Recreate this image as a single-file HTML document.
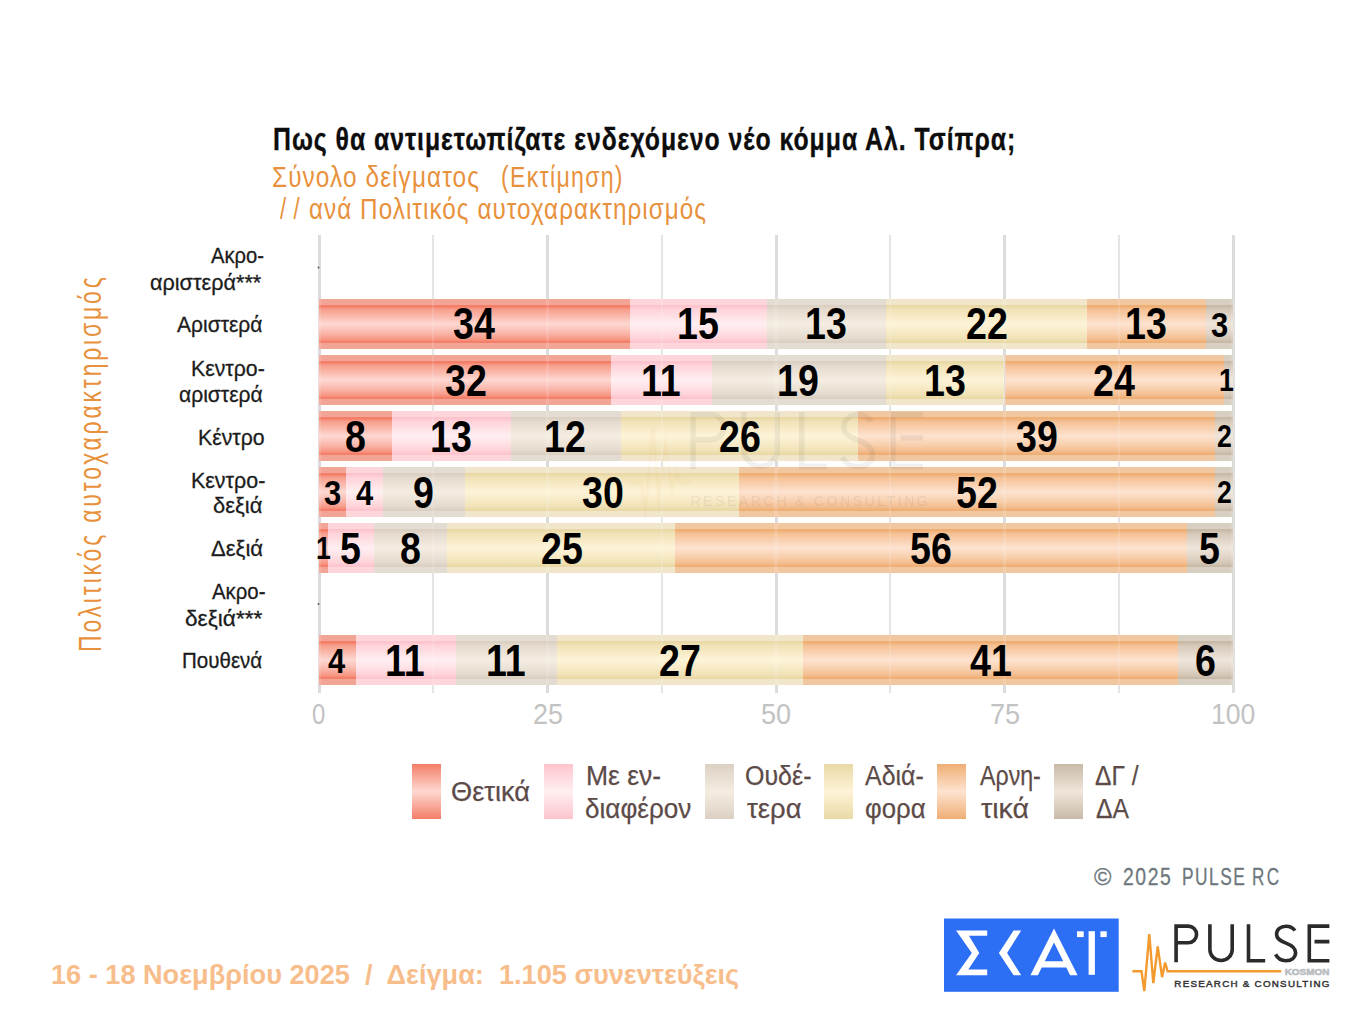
<!DOCTYPE html>
<html><head><meta charset="utf-8">
<style>
html,body{margin:0;padding:0;background:#fff;width:1360px;height:1020px;overflow:hidden}
body{position:relative;font-family:"Liberation Sans",sans-serif}
.t{position:absolute;white-space:pre;transform-origin:0 0}
.seg{position:absolute}
.g{position:absolute;top:235px;height:458px}
.lsq{position:absolute;top:764px;width:29px;height:55px}
svg{position:absolute;left:0;top:0}
</style></head><body>
<div class="g" style="left:317.50px;width:3.0px;background:#dcdcdc"></div>
<div class="g" style="left:432.25px;width:2.0px;background:#e5e5e5"></div>
<div class="g" style="left:546.00px;width:3.0px;background:#dcdcdc"></div>
<div class="g" style="left:660.75px;width:2.0px;background:#e5e5e5"></div>
<div class="g" style="left:774.50px;width:3.0px;background:#dcdcdc"></div>
<div class="g" style="left:889.25px;width:2.0px;background:#e5e5e5"></div>
<div class="g" style="left:1003.00px;width:3.0px;background:#dcdcdc"></div>
<div class="g" style="left:1117.75px;width:2.0px;background:#e5e5e5"></div>
<div class="g" style="left:1231.50px;width:3.0px;background:#dcdcdc"></div>
<div class="seg" style="left:319.00px;top:298.50px;width:310.76px;height:50.4px;background:linear-gradient(to bottom,#f3a595 0%,#f3a595 11.5%,#f47e68 12.5%,#f47e68 15%,#f79e8d 21%,#fabbaf 36%,#fdd8d1 50%,#fabdb2 65%,#f79988 80%,#f47e68 85.5%,#f47e68 88%,#f3a595 89%,#f3a595 100%)"></div>
<div class="seg" style="left:629.76px;top:298.50px;width:137.10px;height:50.4px;background:linear-gradient(to bottom,#fcd6db 0%,#fcd6db 11.5%,#fdc4cd 12.5%,#fdc4cd 15%,#fed3da 21%,#fee1e5 36%,#ffeff1 50%,#fee2e6 65%,#fed1d8 80%,#fdc4cd 85.5%,#fdc4cd 88%,#fcd6db 89%,#fcd6db 100%)"></div>
<div class="seg" style="left:766.86px;top:298.50px;width:118.82px;height:50.4px;background:linear-gradient(to bottom,#e3dcd2 0%,#e3dcd2 11.5%,#dbd0c2 12.5%,#dbd0c2 15%,#e4dacd 21%,#ede4d8 36%,#f5ede2 50%,#ede4d8 65%,#e3d9cc 80%,#dbd0c2 85.5%,#dbd0c2 88%,#e3dcd2 89%,#e3dcd2 100%)"></div>
<div class="seg" style="left:885.68px;top:298.50px;width:201.08px;height:50.4px;background:linear-gradient(to bottom,#f1e6cb 0%,#f1e6cb 11.5%,#ead9a6 12.5%,#ead9a6 15%,#f1e2b7 21%,#f7ebc7 36%,#fdf3d7 50%,#f7ebc8 65%,#f0e1b5 80%,#ead9a6 85.5%,#ead9a6 88%,#f1e6cb 89%,#f1e6cb 100%)"></div>
<div class="seg" style="left:1086.76px;top:298.50px;width:118.82px;height:50.4px;background:linear-gradient(to bottom,#f1c7a0 0%,#f1c7a0 11.5%,#efae74 12.5%,#efae74 15%,#f4c194 21%,#f9d2b3 36%,#fde3d0 50%,#f9d3b4 65%,#f3be90 80%,#efae74 85.5%,#efae74 88%,#f1c7a0 89%,#f1c7a0 100%)"></div>
<div class="seg" style="left:1205.58px;top:298.50px;width:27.42px;height:50.4px;background:linear-gradient(to bottom,#d8cfc3 0%,#d8cfc3 11.5%,#c9baa8 12.5%,#c9baa8 15%,#d6c9ba 21%,#e3d7ca 36%,#efe5da 50%,#e4d8cb 65%,#d4c7b7 80%,#c9baa8 85.5%,#c9baa8 88%,#d8cfc3 89%,#d8cfc3 100%)"></div>
<div class="seg" style="left:319.00px;top:354.60px;width:292.48px;height:50.4px;background:linear-gradient(to bottom,#f3a595 0%,#f3a595 11.5%,#f47e68 12.5%,#f47e68 15%,#f79e8d 21%,#fabbaf 36%,#fdd8d1 50%,#fabdb2 65%,#f79988 80%,#f47e68 85.5%,#f47e68 88%,#f3a595 89%,#f3a595 100%)"></div>
<div class="seg" style="left:611.48px;top:354.60px;width:100.54px;height:50.4px;background:linear-gradient(to bottom,#fcd6db 0%,#fcd6db 11.5%,#fdc4cd 12.5%,#fdc4cd 15%,#fed3da 21%,#fee1e5 36%,#ffeff1 50%,#fee2e6 65%,#fed1d8 80%,#fdc4cd 85.5%,#fdc4cd 88%,#fcd6db 89%,#fcd6db 100%)"></div>
<div class="seg" style="left:712.02px;top:354.60px;width:173.66px;height:50.4px;background:linear-gradient(to bottom,#e3dcd2 0%,#e3dcd2 11.5%,#dbd0c2 12.5%,#dbd0c2 15%,#e4dacd 21%,#ede4d8 36%,#f5ede2 50%,#ede4d8 65%,#e3d9cc 80%,#dbd0c2 85.5%,#dbd0c2 88%,#e3dcd2 89%,#e3dcd2 100%)"></div>
<div class="seg" style="left:885.68px;top:354.60px;width:118.82px;height:50.4px;background:linear-gradient(to bottom,#f1e6cb 0%,#f1e6cb 11.5%,#ead9a6 12.5%,#ead9a6 15%,#f1e2b7 21%,#f7ebc7 36%,#fdf3d7 50%,#f7ebc8 65%,#f0e1b5 80%,#ead9a6 85.5%,#ead9a6 88%,#f1e6cb 89%,#f1e6cb 100%)"></div>
<div class="seg" style="left:1004.50px;top:354.60px;width:219.36px;height:50.4px;background:linear-gradient(to bottom,#f1c7a0 0%,#f1c7a0 11.5%,#efae74 12.5%,#efae74 15%,#f4c194 21%,#f9d2b3 36%,#fde3d0 50%,#f9d3b4 65%,#f3be90 80%,#efae74 85.5%,#efae74 88%,#f1c7a0 89%,#f1c7a0 100%)"></div>
<div class="seg" style="left:1223.86px;top:354.60px;width:9.14px;height:50.4px;background:linear-gradient(to bottom,#d8cfc3 0%,#d8cfc3 11.5%,#c9baa8 12.5%,#c9baa8 15%,#d6c9ba 21%,#e3d7ca 36%,#efe5da 50%,#e4d8cb 65%,#d4c7b7 80%,#c9baa8 85.5%,#c9baa8 88%,#d8cfc3 89%,#d8cfc3 100%)"></div>
<div class="seg" style="left:319.00px;top:410.70px;width:73.12px;height:50.4px;background:linear-gradient(to bottom,#f3a595 0%,#f3a595 11.5%,#f47e68 12.5%,#f47e68 15%,#f79e8d 21%,#fabbaf 36%,#fdd8d1 50%,#fabdb2 65%,#f79988 80%,#f47e68 85.5%,#f47e68 88%,#f3a595 89%,#f3a595 100%)"></div>
<div class="seg" style="left:392.12px;top:410.70px;width:118.82px;height:50.4px;background:linear-gradient(to bottom,#fcd6db 0%,#fcd6db 11.5%,#fdc4cd 12.5%,#fdc4cd 15%,#fed3da 21%,#fee1e5 36%,#ffeff1 50%,#fee2e6 65%,#fed1d8 80%,#fdc4cd 85.5%,#fdc4cd 88%,#fcd6db 89%,#fcd6db 100%)"></div>
<div class="seg" style="left:510.94px;top:410.70px;width:109.68px;height:50.4px;background:linear-gradient(to bottom,#e3dcd2 0%,#e3dcd2 11.5%,#dbd0c2 12.5%,#dbd0c2 15%,#e4dacd 21%,#ede4d8 36%,#f5ede2 50%,#ede4d8 65%,#e3d9cc 80%,#dbd0c2 85.5%,#dbd0c2 88%,#e3dcd2 89%,#e3dcd2 100%)"></div>
<div class="seg" style="left:620.62px;top:410.70px;width:237.64px;height:50.4px;background:linear-gradient(to bottom,#f1e6cb 0%,#f1e6cb 11.5%,#ead9a6 12.5%,#ead9a6 15%,#f1e2b7 21%,#f7ebc7 36%,#fdf3d7 50%,#f7ebc8 65%,#f0e1b5 80%,#ead9a6 85.5%,#ead9a6 88%,#f1e6cb 89%,#f1e6cb 100%)"></div>
<div class="seg" style="left:858.26px;top:410.70px;width:356.46px;height:50.4px;background:linear-gradient(to bottom,#f1c7a0 0%,#f1c7a0 11.5%,#efae74 12.5%,#efae74 15%,#f4c194 21%,#f9d2b3 36%,#fde3d0 50%,#f9d3b4 65%,#f3be90 80%,#efae74 85.5%,#efae74 88%,#f1c7a0 89%,#f1c7a0 100%)"></div>
<div class="seg" style="left:1214.72px;top:410.70px;width:18.28px;height:50.4px;background:linear-gradient(to bottom,#d8cfc3 0%,#d8cfc3 11.5%,#c9baa8 12.5%,#c9baa8 15%,#d6c9ba 21%,#e3d7ca 36%,#efe5da 50%,#e4d8cb 65%,#d4c7b7 80%,#c9baa8 85.5%,#c9baa8 88%,#d8cfc3 89%,#d8cfc3 100%)"></div>
<div class="seg" style="left:319.00px;top:466.80px;width:27.42px;height:50.4px;background:linear-gradient(to bottom,#f3a595 0%,#f3a595 11.5%,#f47e68 12.5%,#f47e68 15%,#f79e8d 21%,#fabbaf 36%,#fdd8d1 50%,#fabdb2 65%,#f79988 80%,#f47e68 85.5%,#f47e68 88%,#f3a595 89%,#f3a595 100%)"></div>
<div class="seg" style="left:346.42px;top:466.80px;width:36.56px;height:50.4px;background:linear-gradient(to bottom,#fcd6db 0%,#fcd6db 11.5%,#fdc4cd 12.5%,#fdc4cd 15%,#fed3da 21%,#fee1e5 36%,#ffeff1 50%,#fee2e6 65%,#fed1d8 80%,#fdc4cd 85.5%,#fdc4cd 88%,#fcd6db 89%,#fcd6db 100%)"></div>
<div class="seg" style="left:382.98px;top:466.80px;width:82.26px;height:50.4px;background:linear-gradient(to bottom,#e3dcd2 0%,#e3dcd2 11.5%,#dbd0c2 12.5%,#dbd0c2 15%,#e4dacd 21%,#ede4d8 36%,#f5ede2 50%,#ede4d8 65%,#e3d9cc 80%,#dbd0c2 85.5%,#dbd0c2 88%,#e3dcd2 89%,#e3dcd2 100%)"></div>
<div class="seg" style="left:465.24px;top:466.80px;width:274.20px;height:50.4px;background:linear-gradient(to bottom,#f1e6cb 0%,#f1e6cb 11.5%,#ead9a6 12.5%,#ead9a6 15%,#f1e2b7 21%,#f7ebc7 36%,#fdf3d7 50%,#f7ebc8 65%,#f0e1b5 80%,#ead9a6 85.5%,#ead9a6 88%,#f1e6cb 89%,#f1e6cb 100%)"></div>
<div class="seg" style="left:739.44px;top:466.80px;width:475.28px;height:50.4px;background:linear-gradient(to bottom,#f1c7a0 0%,#f1c7a0 11.5%,#efae74 12.5%,#efae74 15%,#f4c194 21%,#f9d2b3 36%,#fde3d0 50%,#f9d3b4 65%,#f3be90 80%,#efae74 85.5%,#efae74 88%,#f1c7a0 89%,#f1c7a0 100%)"></div>
<div class="seg" style="left:1214.72px;top:466.80px;width:18.28px;height:50.4px;background:linear-gradient(to bottom,#d8cfc3 0%,#d8cfc3 11.5%,#c9baa8 12.5%,#c9baa8 15%,#d6c9ba 21%,#e3d7ca 36%,#efe5da 50%,#e4d8cb 65%,#d4c7b7 80%,#c9baa8 85.5%,#c9baa8 88%,#d8cfc3 89%,#d8cfc3 100%)"></div>
<div class="seg" style="left:319.00px;top:522.90px;width:9.14px;height:50.4px;background:linear-gradient(to bottom,#f3a595 0%,#f3a595 11.5%,#f47e68 12.5%,#f47e68 15%,#f79e8d 21%,#fabbaf 36%,#fdd8d1 50%,#fabdb2 65%,#f79988 80%,#f47e68 85.5%,#f47e68 88%,#f3a595 89%,#f3a595 100%)"></div>
<div class="seg" style="left:328.14px;top:522.90px;width:45.70px;height:50.4px;background:linear-gradient(to bottom,#fcd6db 0%,#fcd6db 11.5%,#fdc4cd 12.5%,#fdc4cd 15%,#fed3da 21%,#fee1e5 36%,#ffeff1 50%,#fee2e6 65%,#fed1d8 80%,#fdc4cd 85.5%,#fdc4cd 88%,#fcd6db 89%,#fcd6db 100%)"></div>
<div class="seg" style="left:373.84px;top:522.90px;width:73.12px;height:50.4px;background:linear-gradient(to bottom,#e3dcd2 0%,#e3dcd2 11.5%,#dbd0c2 12.5%,#dbd0c2 15%,#e4dacd 21%,#ede4d8 36%,#f5ede2 50%,#ede4d8 65%,#e3d9cc 80%,#dbd0c2 85.5%,#dbd0c2 88%,#e3dcd2 89%,#e3dcd2 100%)"></div>
<div class="seg" style="left:446.96px;top:522.90px;width:228.50px;height:50.4px;background:linear-gradient(to bottom,#f1e6cb 0%,#f1e6cb 11.5%,#ead9a6 12.5%,#ead9a6 15%,#f1e2b7 21%,#f7ebc7 36%,#fdf3d7 50%,#f7ebc8 65%,#f0e1b5 80%,#ead9a6 85.5%,#ead9a6 88%,#f1e6cb 89%,#f1e6cb 100%)"></div>
<div class="seg" style="left:675.46px;top:522.90px;width:511.84px;height:50.4px;background:linear-gradient(to bottom,#f1c7a0 0%,#f1c7a0 11.5%,#efae74 12.5%,#efae74 15%,#f4c194 21%,#f9d2b3 36%,#fde3d0 50%,#f9d3b4 65%,#f3be90 80%,#efae74 85.5%,#efae74 88%,#f1c7a0 89%,#f1c7a0 100%)"></div>
<div class="seg" style="left:1187.30px;top:522.90px;width:45.70px;height:50.4px;background:linear-gradient(to bottom,#d8cfc3 0%,#d8cfc3 11.5%,#c9baa8 12.5%,#c9baa8 15%,#d6c9ba 21%,#e3d7ca 36%,#efe5da 50%,#e4d8cb 65%,#d4c7b7 80%,#c9baa8 85.5%,#c9baa8 88%,#d8cfc3 89%,#d8cfc3 100%)"></div>
<div class="seg" style="left:319.00px;top:635.10px;width:36.56px;height:50.4px;background:linear-gradient(to bottom,#f3a595 0%,#f3a595 11.5%,#f47e68 12.5%,#f47e68 15%,#f79e8d 21%,#fabbaf 36%,#fdd8d1 50%,#fabdb2 65%,#f79988 80%,#f47e68 85.5%,#f47e68 88%,#f3a595 89%,#f3a595 100%)"></div>
<div class="seg" style="left:355.56px;top:635.10px;width:100.54px;height:50.4px;background:linear-gradient(to bottom,#fcd6db 0%,#fcd6db 11.5%,#fdc4cd 12.5%,#fdc4cd 15%,#fed3da 21%,#fee1e5 36%,#ffeff1 50%,#fee2e6 65%,#fed1d8 80%,#fdc4cd 85.5%,#fdc4cd 88%,#fcd6db 89%,#fcd6db 100%)"></div>
<div class="seg" style="left:456.10px;top:635.10px;width:100.54px;height:50.4px;background:linear-gradient(to bottom,#e3dcd2 0%,#e3dcd2 11.5%,#dbd0c2 12.5%,#dbd0c2 15%,#e4dacd 21%,#ede4d8 36%,#f5ede2 50%,#ede4d8 65%,#e3d9cc 80%,#dbd0c2 85.5%,#dbd0c2 88%,#e3dcd2 89%,#e3dcd2 100%)"></div>
<div class="seg" style="left:556.64px;top:635.10px;width:246.78px;height:50.4px;background:linear-gradient(to bottom,#f1e6cb 0%,#f1e6cb 11.5%,#ead9a6 12.5%,#ead9a6 15%,#f1e2b7 21%,#f7ebc7 36%,#fdf3d7 50%,#f7ebc8 65%,#f0e1b5 80%,#ead9a6 85.5%,#ead9a6 88%,#f1e6cb 89%,#f1e6cb 100%)"></div>
<div class="seg" style="left:803.42px;top:635.10px;width:374.74px;height:50.4px;background:linear-gradient(to bottom,#f1c7a0 0%,#f1c7a0 11.5%,#efae74 12.5%,#efae74 15%,#f4c194 21%,#f9d2b3 36%,#fde3d0 50%,#f9d3b4 65%,#f3be90 80%,#efae74 85.5%,#efae74 88%,#f1c7a0 89%,#f1c7a0 100%)"></div>
<div class="seg" style="left:1178.16px;top:635.10px;width:54.84px;height:50.4px;background:linear-gradient(to bottom,#d8cfc3 0%,#d8cfc3 11.5%,#c9baa8 12.5%,#c9baa8 15%,#d6c9ba 21%,#e3d7ca 36%,#efe5da 50%,#e4d8cb 65%,#d4c7b7 80%,#c9baa8 85.5%,#c9baa8 88%,#d8cfc3 89%,#d8cfc3 100%)"></div>
<div class="seg" style="left:317.40px;top:298.50px;width:3.2px;height:50.4px;background:#fff;opacity:0.13"></div>
<div class="seg" style="left:432.25px;top:298.50px;width:2.0px;height:50.4px;background:#fff;opacity:0.13"></div>
<div class="seg" style="left:545.90px;top:298.50px;width:3.2px;height:50.4px;background:#fff;opacity:0.13"></div>
<div class="seg" style="left:660.75px;top:298.50px;width:2.0px;height:50.4px;background:#fff;opacity:0.13"></div>
<div class="seg" style="left:774.40px;top:298.50px;width:3.2px;height:50.4px;background:#fff;opacity:0.13"></div>
<div class="seg" style="left:889.25px;top:298.50px;width:2.0px;height:50.4px;background:#fff;opacity:0.13"></div>
<div class="seg" style="left:1002.90px;top:298.50px;width:3.2px;height:50.4px;background:#fff;opacity:0.13"></div>
<div class="seg" style="left:1117.75px;top:298.50px;width:2.0px;height:50.4px;background:#fff;opacity:0.13"></div>
<div class="seg" style="left:1231.40px;top:298.50px;width:3.2px;height:50.4px;background:#fff;opacity:0.13"></div>
<div class="seg" style="left:317.40px;top:354.60px;width:3.2px;height:50.4px;background:#fff;opacity:0.13"></div>
<div class="seg" style="left:432.25px;top:354.60px;width:2.0px;height:50.4px;background:#fff;opacity:0.13"></div>
<div class="seg" style="left:545.90px;top:354.60px;width:3.2px;height:50.4px;background:#fff;opacity:0.13"></div>
<div class="seg" style="left:660.75px;top:354.60px;width:2.0px;height:50.4px;background:#fff;opacity:0.13"></div>
<div class="seg" style="left:774.40px;top:354.60px;width:3.2px;height:50.4px;background:#fff;opacity:0.13"></div>
<div class="seg" style="left:889.25px;top:354.60px;width:2.0px;height:50.4px;background:#fff;opacity:0.13"></div>
<div class="seg" style="left:1002.90px;top:354.60px;width:3.2px;height:50.4px;background:#fff;opacity:0.13"></div>
<div class="seg" style="left:1117.75px;top:354.60px;width:2.0px;height:50.4px;background:#fff;opacity:0.13"></div>
<div class="seg" style="left:1231.40px;top:354.60px;width:3.2px;height:50.4px;background:#fff;opacity:0.13"></div>
<div class="seg" style="left:317.40px;top:410.70px;width:3.2px;height:50.4px;background:#fff;opacity:0.13"></div>
<div class="seg" style="left:432.25px;top:410.70px;width:2.0px;height:50.4px;background:#fff;opacity:0.13"></div>
<div class="seg" style="left:545.90px;top:410.70px;width:3.2px;height:50.4px;background:#fff;opacity:0.13"></div>
<div class="seg" style="left:660.75px;top:410.70px;width:2.0px;height:50.4px;background:#fff;opacity:0.13"></div>
<div class="seg" style="left:774.40px;top:410.70px;width:3.2px;height:50.4px;background:#fff;opacity:0.13"></div>
<div class="seg" style="left:889.25px;top:410.70px;width:2.0px;height:50.4px;background:#fff;opacity:0.13"></div>
<div class="seg" style="left:1002.90px;top:410.70px;width:3.2px;height:50.4px;background:#fff;opacity:0.13"></div>
<div class="seg" style="left:1117.75px;top:410.70px;width:2.0px;height:50.4px;background:#fff;opacity:0.13"></div>
<div class="seg" style="left:1231.40px;top:410.70px;width:3.2px;height:50.4px;background:#fff;opacity:0.13"></div>
<div class="seg" style="left:317.40px;top:466.80px;width:3.2px;height:50.4px;background:#fff;opacity:0.13"></div>
<div class="seg" style="left:432.25px;top:466.80px;width:2.0px;height:50.4px;background:#fff;opacity:0.13"></div>
<div class="seg" style="left:545.90px;top:466.80px;width:3.2px;height:50.4px;background:#fff;opacity:0.13"></div>
<div class="seg" style="left:660.75px;top:466.80px;width:2.0px;height:50.4px;background:#fff;opacity:0.13"></div>
<div class="seg" style="left:774.40px;top:466.80px;width:3.2px;height:50.4px;background:#fff;opacity:0.13"></div>
<div class="seg" style="left:889.25px;top:466.80px;width:2.0px;height:50.4px;background:#fff;opacity:0.13"></div>
<div class="seg" style="left:1002.90px;top:466.80px;width:3.2px;height:50.4px;background:#fff;opacity:0.13"></div>
<div class="seg" style="left:1117.75px;top:466.80px;width:2.0px;height:50.4px;background:#fff;opacity:0.13"></div>
<div class="seg" style="left:1231.40px;top:466.80px;width:3.2px;height:50.4px;background:#fff;opacity:0.13"></div>
<div class="seg" style="left:317.40px;top:522.90px;width:3.2px;height:50.4px;background:#fff;opacity:0.13"></div>
<div class="seg" style="left:432.25px;top:522.90px;width:2.0px;height:50.4px;background:#fff;opacity:0.13"></div>
<div class="seg" style="left:545.90px;top:522.90px;width:3.2px;height:50.4px;background:#fff;opacity:0.13"></div>
<div class="seg" style="left:660.75px;top:522.90px;width:2.0px;height:50.4px;background:#fff;opacity:0.13"></div>
<div class="seg" style="left:774.40px;top:522.90px;width:3.2px;height:50.4px;background:#fff;opacity:0.13"></div>
<div class="seg" style="left:889.25px;top:522.90px;width:2.0px;height:50.4px;background:#fff;opacity:0.13"></div>
<div class="seg" style="left:1002.90px;top:522.90px;width:3.2px;height:50.4px;background:#fff;opacity:0.13"></div>
<div class="seg" style="left:1117.75px;top:522.90px;width:2.0px;height:50.4px;background:#fff;opacity:0.13"></div>
<div class="seg" style="left:1231.40px;top:522.90px;width:3.2px;height:50.4px;background:#fff;opacity:0.13"></div>
<div class="seg" style="left:317.40px;top:635.10px;width:3.2px;height:50.4px;background:#fff;opacity:0.13"></div>
<div class="seg" style="left:432.25px;top:635.10px;width:2.0px;height:50.4px;background:#fff;opacity:0.13"></div>
<div class="seg" style="left:545.90px;top:635.10px;width:3.2px;height:50.4px;background:#fff;opacity:0.13"></div>
<div class="seg" style="left:660.75px;top:635.10px;width:2.0px;height:50.4px;background:#fff;opacity:0.13"></div>
<div class="seg" style="left:774.40px;top:635.10px;width:3.2px;height:50.4px;background:#fff;opacity:0.13"></div>
<div class="seg" style="left:889.25px;top:635.10px;width:2.0px;height:50.4px;background:#fff;opacity:0.13"></div>
<div class="seg" style="left:1002.90px;top:635.10px;width:3.2px;height:50.4px;background:#fff;opacity:0.13"></div>
<div class="seg" style="left:1117.75px;top:635.10px;width:2.0px;height:50.4px;background:#fff;opacity:0.13"></div>
<div class="seg" style="left:1231.40px;top:635.10px;width:3.2px;height:50.4px;background:#fff;opacity:0.13"></div>
<div class="lsq" style="left:411.8px;background:linear-gradient(to bottom,#f47e68 0%,#fdd8d1 50%,#f47e68 100%)"></div>
<div class="lsq" style="left:543.5px;background:linear-gradient(to bottom,#fdc4cd 0%,#ffeff1 50%,#fdc4cd 100%)"></div>
<div class="lsq" style="left:705.4px;background:linear-gradient(to bottom,#dbd0c2 0%,#f5ede2 50%,#dbd0c2 100%)"></div>
<div class="lsq" style="left:823.75px;background:linear-gradient(to bottom,#ead9a6 0%,#fdf3d7 50%,#ead9a6 100%)"></div>
<div class="lsq" style="left:936.75px;background:linear-gradient(to bottom,#efae74 0%,#fde3d0 50%,#efae74 100%)"></div>
<div class="lsq" style="left:1053.75px;background:linear-gradient(to bottom,#c9baa8 0%,#efe5da 50%,#c9baa8 100%)"></div>
<div class="t" style="left:272.54px;top:124px;font-size:31.9px;line-height:31.9px;color:#0d0d0d;transform:scaleX(0.7778);letter-spacing:1.254px;font-weight:bold;-webkit-text-stroke:0.35px #0d0d0d">Πως θα αντιμετωπίζατε ενδεχόμενο νέο κόμμα Αλ. Τσίπρα;</div>
<div class="t" style="left:272.05px;top:162px;font-size:29.6px;line-height:29.6px;color:#e8913c;transform:scaleX(0.8236);letter-spacing:1.328px">Σύνολο δείγματος</div>
<div class="t" style="left:501.04px;top:162px;font-size:29.6px;line-height:29.6px;color:#e8913c;transform:scaleX(0.7791);letter-spacing:1.691px">(Εκτίμηση)</div>
<div class="t" style="left:279.80px;top:194px;font-size:29.6px;line-height:29.6px;color:#e8913c;transform:scaleX(0.7440);letter-spacing:9.806px">//</div>
<div class="t" style="left:308.78px;top:194px;font-size:29.6px;line-height:29.6px;color:#e8913c;transform:scaleX(0.8193);letter-spacing:1.287px">ανά Πολιτικός αυτοχαρακτηρισμός</div>
<div class="t" style="left:74.65px;top:651.52px;font-size:31.0px;line-height:31.0px;color:#e8913c;transform:rotate(-90deg) scaleX(0.7400);letter-spacing:3.814px">Πολιτικός αυτοχαρακτηρισμός</div>
<div class="t" style="left:211.20px;top:245px;font-size:22.6px;line-height:22.6px;color:#1c1c1c;transform:scaleX(0.8931);-webkit-text-stroke:0.3px #1c1c1c">Ακρο-</div>
<div class="t" style="left:150.34px;top:272px;font-size:22.6px;line-height:22.6px;color:#1c1c1c;transform:scaleX(0.9574);-webkit-text-stroke:0.3px #1c1c1c">αριστερά***</div>
<div class="t" style="left:177.20px;top:314px;font-size:22.6px;line-height:22.6px;color:#1c1c1c;transform:scaleX(0.9308);-webkit-text-stroke:0.3px #1c1c1c">Αριστερά</div>
<div class="t" style="left:191.02px;top:358px;font-size:22.6px;line-height:22.6px;color:#1c1c1c;transform:scaleX(0.9413);-webkit-text-stroke:0.3px #1c1c1c">Κεντρο-</div>
<div class="t" style="left:178.97px;top:384px;font-size:22.6px;line-height:22.6px;color:#1c1c1c;transform:scaleX(0.9318);-webkit-text-stroke:0.3px #1c1c1c">αριστερά</div>
<div class="t" style="left:198.01px;top:427px;font-size:22.6px;line-height:22.6px;color:#1c1c1c;transform:scaleX(0.9426);-webkit-text-stroke:0.3px #1c1c1c">Κέντρο</div>
<div class="t" style="left:190.70px;top:470px;font-size:22.6px;line-height:22.6px;color:#1c1c1c;transform:scaleX(0.9493);-webkit-text-stroke:0.3px #1c1c1c">Κεντρο-</div>
<div class="t" style="left:213.23px;top:495px;font-size:22.6px;line-height:22.6px;color:#1c1c1c;transform:scaleX(0.9694);-webkit-text-stroke:0.3px #1c1c1c">δεξιά</div>
<div class="t" style="left:210.53px;top:538px;font-size:22.6px;line-height:22.6px;color:#1c1c1c;transform:scaleX(0.9750);-webkit-text-stroke:0.3px #1c1c1c">Δεξιά</div>
<div class="t" style="left:211.50px;top:581px;font-size:22.6px;line-height:22.6px;color:#1c1c1c;transform:scaleX(0.9017);-webkit-text-stroke:0.3px #1c1c1c">Ακρο-</div>
<div class="t" style="left:184.60px;top:608px;font-size:22.6px;line-height:22.6px;color:#1c1c1c;transform:scaleX(1.0013);-webkit-text-stroke:0.3px #1c1c1c">δεξιά***</div>
<div class="t" style="left:181.68px;top:650px;font-size:22.6px;line-height:22.6px;color:#1c1c1c;transform:scaleX(0.9093);-webkit-text-stroke:0.3px #1c1c1c">Πουθενά</div>
<div class="t" style="left:311.98px;top:700px;font-size:29.0px;line-height:29.0px;color:#c2c2c2;transform:scaleX(0.8214)">0</div>
<div class="t" style="left:532.77px;top:700px;font-size:29.0px;line-height:29.0px;color:#c2c2c2;transform:scaleX(0.9267)">25</div>
<div class="t" style="left:761.07px;top:700px;font-size:29.0px;line-height:29.0px;color:#c2c2c2;transform:scaleX(0.9333)">50</div>
<div class="t" style="left:989.57px;top:700px;font-size:29.0px;line-height:29.0px;color:#c2c2c2;transform:scaleX(0.9333)">75</div>
<div class="t" style="left:1211.27px;top:700px;font-size:29.0px;line-height:29.0px;color:#c2c2c2;transform:scaleX(0.9156)">100</div>
<div class="t" style="left:451.34px;top:777px;font-size:28.2px;line-height:28.2px;color:#5c4b48;transform:scaleX(0.9637);-webkit-text-stroke:0.25px #5c4b48">Θετικά</div>
<div class="t" style="left:585.62px;top:761px;font-size:28.2px;line-height:28.2px;color:#5c4b48;transform:scaleX(0.9403);-webkit-text-stroke:0.25px #5c4b48">Με εν-</div>
<div class="t" style="left:584.77px;top:794px;font-size:28.2px;line-height:28.2px;color:#5c4b48;transform:scaleX(0.9257);-webkit-text-stroke:0.25px #5c4b48">διαφέρον</div>
<div class="t" style="left:745.01px;top:761px;font-size:28.2px;line-height:28.2px;color:#5c4b48;transform:scaleX(0.8863);-webkit-text-stroke:0.25px #5c4b48">Ουδέ-</div>
<div class="t" style="left:746.50px;top:794px;font-size:28.2px;line-height:28.2px;color:#5c4b48;transform:scaleX(0.9727);-webkit-text-stroke:0.25px #5c4b48">τερα</div>
<div class="t" style="left:865.00px;top:761px;font-size:28.2px;line-height:28.2px;color:#5c4b48;transform:scaleX(0.8846);-webkit-text-stroke:0.25px #5c4b48">Αδιά-</div>
<div class="t" style="left:864.59px;top:794px;font-size:28.2px;line-height:28.2px;color:#5c4b48;transform:scaleX(0.9141);-webkit-text-stroke:0.25px #5c4b48">φορα</div>
<div class="t" style="left:980.00px;top:761px;font-size:28.2px;line-height:28.2px;color:#5c4b48;transform:scaleX(0.8219);-webkit-text-stroke:0.25px #5c4b48">Αρνη-</div>
<div class="t" style="left:980.50px;top:794px;font-size:28.2px;line-height:28.2px;color:#5c4b48;transform:scaleX(1.0106);-webkit-text-stroke:0.25px #5c4b48">τικά</div>
<div class="t" style="left:1095.13px;top:761px;font-size:28.2px;line-height:28.2px;color:#5c4b48;transform:scaleX(0.8724);-webkit-text-stroke:0.25px #5c4b48">ΔΓ /</div>
<div class="t" style="left:1095.62px;top:794px;font-size:28.2px;line-height:28.2px;color:#5c4b48;transform:scaleX(0.8750);-webkit-text-stroke:0.25px #5c4b48">ΔΑ</div>
<div class="t" style="left:1093.50px;top:865px;font-size:24.6px;line-height:24.6px;color:#6d777c;transform:scaleX(0.9611);-webkit-text-stroke:0.3px #6d777c">©</div>
<div class="t" style="left:1122.81px;top:865px;font-size:24.6px;line-height:24.6px;color:#6d777c;transform:scaleX(0.7879);letter-spacing:1.963px;-webkit-text-stroke:0.3px #6d777c">2025</div>
<div class="t" style="left:1182.39px;top:865px;font-size:24.6px;line-height:24.6px;color:#6d777c;transform:scaleX(0.7038);letter-spacing:2.167px;-webkit-text-stroke:0.3px #6d777c">PULSE</div>
<div class="t" style="left:1251.91px;top:865px;font-size:24.6px;line-height:24.6px;color:#6d777c;transform:scaleX(0.6947);letter-spacing:3.556px;-webkit-text-stroke:0.3px #6d777c">RC</div>
<div class="t" style="left:50.93px;top:961px;font-size:27.5px;line-height:27.5px;color:#f7bd8a;transform:scaleX(0.9868);font-weight:bold">16 - 18 Νοεμβρίου 2025  /  Δείγμα:  1.105 συνεντεύξεις</div>
<div class="t" style="left:453.31px;top:302px;font-size:43.66px;line-height:43.66px;color:#000;transform:scaleX(0.8600);font-weight:bold">34</div>
<div class="t" style="left:676.81px;top:302px;font-size:43.66px;line-height:43.66px;color:#000;transform:scaleX(0.8600);font-weight:bold">15</div>
<div class="t" style="left:804.77px;top:302px;font-size:43.66px;line-height:43.66px;color:#000;transform:scaleX(0.8600);font-weight:bold">13</div>
<div class="t" style="left:965.58px;top:302px;font-size:43.66px;line-height:43.66px;color:#000;transform:scaleX(0.8600);font-weight:bold">22</div>
<div class="t" style="left:1124.67px;top:302px;font-size:43.66px;line-height:43.66px;color:#000;transform:scaleX(0.8600);font-weight:bold">13</div>
<div class="t" style="left:1210.69px;top:307px;font-size:35.92px;line-height:35.92px;color:#000;transform:scaleX(0.8600);font-weight:bold">3</div>
<div class="t" style="left:444.60px;top:359px;font-size:43.66px;line-height:43.66px;color:#000;transform:scaleX(0.8600);font-weight:bold">32</div>
<div class="t" style="left:641.11px;top:359px;font-size:43.66px;line-height:43.66px;color:#000;transform:scaleX(0.8600);font-weight:bold">11</div>
<div class="t" style="left:777.35px;top:359px;font-size:43.66px;line-height:43.66px;color:#000;transform:scaleX(0.8600);font-weight:bold">19</div>
<div class="t" style="left:923.59px;top:359px;font-size:43.66px;line-height:43.66px;color:#000;transform:scaleX(0.8600);font-weight:bold">13</div>
<div class="t" style="left:1093.11px;top:359px;font-size:43.66px;line-height:43.66px;color:#000;transform:scaleX(0.8600);font-weight:bold">24</div>
<div class="t" style="left:1218.76px;top:365px;font-size:30.99px;line-height:30.99px;color:#000;transform:scaleX(0.8600);font-weight:bold">1</div>
<div class="t" style="left:345.24px;top:415px;font-size:43.66px;line-height:43.66px;color:#000;transform:scaleX(0.8600);font-weight:bold">8</div>
<div class="t" style="left:430.03px;top:415px;font-size:43.66px;line-height:43.66px;color:#000;transform:scaleX(0.8600);font-weight:bold">13</div>
<div class="t" style="left:544.28px;top:415px;font-size:43.66px;line-height:43.66px;color:#000;transform:scaleX(0.8600);font-weight:bold">12</div>
<div class="t" style="left:718.80px;top:415px;font-size:43.66px;line-height:43.66px;color:#000;transform:scaleX(0.8600);font-weight:bold">26</div>
<div class="t" style="left:1015.85px;top:415px;font-size:43.66px;line-height:43.66px;color:#000;transform:scaleX(0.8600);font-weight:bold">39</div>
<div class="t" style="left:1216.55px;top:421px;font-size:30.99px;line-height:30.99px;color:#000;transform:scaleX(0.8600);font-weight:bold">2</div>
<div class="t" style="left:324.11px;top:475px;font-size:35.92px;line-height:35.92px;color:#000;transform:scaleX(0.8600);font-weight:bold">3</div>
<div class="t" style="left:355.67px;top:475px;font-size:35.92px;line-height:35.92px;color:#000;transform:scaleX(0.8600);font-weight:bold">4</div>
<div class="t" style="left:413.36px;top:471px;font-size:43.66px;line-height:43.66px;color:#000;transform:scaleX(0.8600);font-weight:bold">9</div>
<div class="t" style="left:581.70px;top:471px;font-size:43.66px;line-height:43.66px;color:#000;transform:scaleX(0.8600);font-weight:bold">30</div>
<div class="t" style="left:956.01px;top:471px;font-size:43.66px;line-height:43.66px;color:#000;transform:scaleX(0.8600);font-weight:bold">52</div>
<div class="t" style="left:1216.55px;top:477px;font-size:30.99px;line-height:30.99px;color:#000;transform:scaleX(0.8600);font-weight:bold">2</div>
<div class="t" style="left:315.83px;top:533px;font-size:30.99px;line-height:30.99px;color:#000;transform:scaleX(0.8600);font-weight:bold">1</div>
<div class="t" style="left:340.24px;top:527px;font-size:43.66px;line-height:43.66px;color:#000;transform:scaleX(0.8600);font-weight:bold">5</div>
<div class="t" style="left:400.08px;top:527px;font-size:43.66px;line-height:43.66px;color:#000;transform:scaleX(0.8600);font-weight:bold">8</div>
<div class="t" style="left:540.57px;top:527px;font-size:43.66px;line-height:43.66px;color:#000;transform:scaleX(0.8600);font-weight:bold">25</div>
<div class="t" style="left:910.31px;top:527px;font-size:43.66px;line-height:43.66px;color:#000;transform:scaleX(0.8600);font-weight:bold">56</div>
<div class="t" style="left:1199.40px;top:527px;font-size:43.66px;line-height:43.66px;color:#000;transform:scaleX(0.8600);font-weight:bold">5</div>
<div class="t" style="left:328.25px;top:643px;font-size:35.92px;line-height:35.92px;color:#000;transform:scaleX(0.8600);font-weight:bold">4</div>
<div class="t" style="left:385.19px;top:639px;font-size:43.66px;line-height:43.66px;color:#000;transform:scaleX(0.8600);font-weight:bold">11</div>
<div class="t" style="left:485.73px;top:639px;font-size:43.66px;line-height:43.66px;color:#000;transform:scaleX(0.8600);font-weight:bold">11</div>
<div class="t" style="left:659.39px;top:639px;font-size:43.66px;line-height:43.66px;color:#000;transform:scaleX(0.8600);font-weight:bold">27</div>
<div class="t" style="left:970.15px;top:639px;font-size:43.66px;line-height:43.66px;color:#000;transform:scaleX(0.8600);font-weight:bold">41</div>
<div class="t" style="left:1194.83px;top:639px;font-size:43.66px;line-height:43.66px;color:#000;transform:scaleX(0.8600);font-weight:bold">6</div>
<svg width="1360" height="1020" viewBox="0 0 1360 1020">
<defs>
<g id="plL" fill="none" stroke="#2b2b2b" stroke-width="3.6">
<path d="M1176.1,962.3 V926.1 H1188.2 A8.35,8.35 0 0 1 1188.2,942.8 H1176.1"/>
<path d="M1209.9,924.3 V949.4 A11.15,11.15 0 0 0 1232.2,949.4 V924.3"/>
<path d="M1248.5,924.3 V960.7 H1265.2"/>
<path d="M1294.9,930.6 C1293,927.6 1289.6,926.2 1286,926.2 C1280.6,926.2 1276.6,929.4 1276.6,934.2 C1276.6,939.2 1281,941.2 1286,943.1 C1291.6,945.2 1295.6,947.8 1295.6,952.6 C1295.6,957.6 1291.5,960.7 1286,960.7 C1281.2,960.7 1277.6,958.4 1275.6,954.4"/>
<path d="M1329.4,926.1 H1309.3 V960.7 H1329.4 M1314.5,941.6 H1329.4"/>
</g>
<polyline id="plS" points="1132.4,971.2 1141.5,971.2 1144.3,991.2 1149.3,934.2 1153.3,983.1 1157.7,946.3 1162.1,977.2 1165.1,962.5 1167.6,971.3 1281.2,971.2" fill="none" stroke="#f29a2e" stroke-width="2.4" stroke-linejoin="miter" stroke-miterlimit="3"/>
<polyline id="plS2" points="1132.4,971.2 1141.5,971.2 1144.3,991.2 1149.3,934.2 1153.3,983.1 1157.7,946.3 1162.1,977.2 1165.1,962.5 1167.6,971.3 1175,971.2" fill="none" stroke="#f29a2e" stroke-width="2" stroke-linejoin="miter" stroke-miterlimit="10"/>
</defs>
<use href="#plL"/>
<use href="#plS"/>
<text x="1284.7" y="975" font-family="Liberation Sans" font-weight="bold" font-size="9.6" fill="#b8bcbf" stroke="#b8bcbf" stroke-width="0.6" textLength="44.7" lengthAdjust="spacingAndGlyphs">KOSMON</text>
<text x="1174.3" y="986.8" font-family="Liberation Sans" font-size="9.8" fill="#333" stroke="#333" stroke-width="0.45" textLength="155.1" lengthAdjust="spacing">RESEARCH &amp; CONSULTING</text>
<g opacity="0.07" transform="translate(-1071.05,-974.45) scale(1.5)"><use href="#plL"/><use href="#plS2" opacity="0.7"/>
<text x="1174.3" y="986.8" font-family="Liberation Sans" font-size="9.4" fill="#2b2b2b" textLength="158.3" lengthAdjust="spacing">RESEARCH &amp; CONSULTING</text></g>
<rect x="944" y="918.5" width="174.7" height="73.3" fill="#2c6ff4"/>
<path d="M956,930.6 L987.2,930.6 L987.2,935.8 L969,935.8 L979.3,952.9 L968.3,969.4 L987.2,969.4 L987.2,975.2 L956,975.2 L971.8,952.9 Z" fill="#fff"/>
<path d="M1013.6,930.6 L1021.2,930.6 L1007.1,952.9 L1021.2,975.2 L1013.6,975.2 L998.9,952.9 Z" fill="#fff"/>
<path fill-rule="evenodd" d="M1054,928.5 L1077.6,975.2 L1070.1,975.2 L1066.3,967.5 L1041.7,967.5 L1037.9,975.2 L1030.4,975.2 Z M1054,942.4 L1063.2,961.2 L1044.8,961.2 Z" fill="#fff"/>
<rect x="1088.6" y="931.2" width="6.3" height="43.6" fill="#fff"/>
<rect x="1077" y="931.3" width="6.7" height="5.8" fill="#fff"/>
<rect x="1100.4" y="931.3" width="6.3" height="5.8" fill="#fff"/>
<rect x="317.7" y="266.7" width="1.6" height="1.6" fill="#444"/>
<rect x="317.7" y="603.2" width="1.6" height="1.6" fill="#444"/>
</svg>
</body></html>
